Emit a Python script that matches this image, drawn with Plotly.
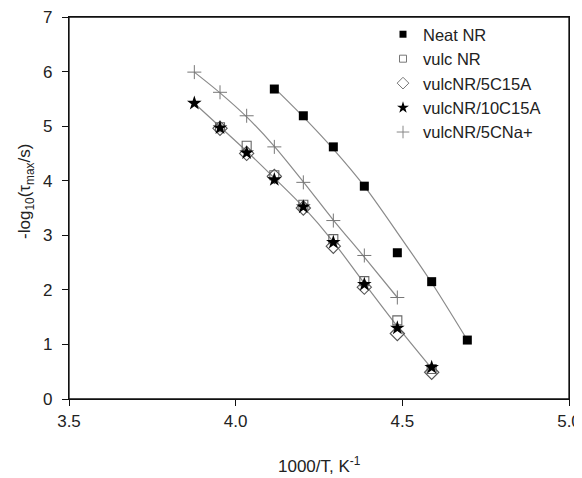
import plotly.graph_objects as go

# ---- data ----
neat_x = [4.116, 4.203, 4.293, 4.386, 4.485, 4.588, 4.695]
neat_y = [5.68, 5.19, 4.62, 3.90, 2.68, 2.15, 1.08]

vulc_x = [3.953, 4.033, 4.116, 4.203, 4.293, 4.386, 4.485, 4.588]
vulc_y = [4.98, 4.64, 4.10, 3.56, 2.93, 2.16, 1.44, 0.55]

c5_x = [3.953, 4.033, 4.116, 4.203, 4.293, 4.386, 4.485, 4.588]
c5_y = [4.96, 4.50, 4.08, 3.50, 2.80, 2.05, 1.20, 0.49]

c10_x = [3.876, 3.953, 4.033, 4.116, 4.203, 4.293, 4.386, 4.485, 4.588]
c10_y = [5.42, 4.97, 4.51, 4.02, 3.52, 2.87, 2.10, 1.30, 0.58]

na_x = [3.876, 3.953, 4.033, 4.116, 4.203, 4.293, 4.386, 4.485]
na_y = [5.99, 5.62, 5.19, 4.62, 3.97, 3.27, 2.63, 1.86]

# fitted curves
fit_neat_x = [4.116, 4.203, 4.293, 4.386, 4.485, 4.588, 4.695]
fit_neat_y = [5.70, 5.17, 4.58, 3.90, 3.05, 2.13, 1.08]
fit_vulc_x = [3.876, 3.953, 4.033, 4.116, 4.203, 4.293, 4.386, 4.485, 4.588]
fit_vulc_y = [5.42, 4.99, 4.54, 4.05, 3.52, 2.88, 2.12, 1.33, 0.56]
fit_na_x = [3.876, 3.953, 4.033, 4.116, 4.203, 4.293, 4.386, 4.485]
fit_na_y = [5.99, 5.61, 5.17, 4.63, 3.98, 3.28, 2.60, 1.86]

x_ticks = [3.5, 4.0, 4.5, 5.0]
y_ticks = [0, 1, 2, 3, 4, 5, 6, 7]

FONT = "Liberation Sans, Arial, sans-serif"
TXT = "#222"
LINE = "#8a8a8a"

fig = go.Figure()

for fx, fy in [(fit_neat_x, fit_neat_y), (fit_vulc_x, fit_vulc_y), (fit_na_x, fit_na_y)]:
    fig.add_trace(go.Scatter(x=fx, y=fy, mode="lines", line=dict(color=LINE, width=1.2, shape="spline", smoothing=0.8),
                             showlegend=False, hoverinfo="skip"))

series = [
    ("Neat NR", neat_x, neat_y, dict(symbol="square", size=9, color="black", line=dict(width=0)),
     dict(symbol="square", size=7, color="black", line=dict(width=0))),
    ("vulc NR", vulc_x, vulc_y, dict(symbol="square-open", size=9, color="#666", line=dict(width=1.1)),
     dict(symbol="square-open", size=7, color="#777", line=dict(width=1))),
    ("vulcNR/5C15A", c5_x, c5_y, dict(symbol="diamond-open", size=11, color="#555", line=dict(width=1.1)),
     dict(symbol="diamond-open", size=9, color="#777", line=dict(width=1))),
    ("vulcNR/10C15A", c10_x, c10_y, dict(symbol="star", size=11, color="black", line=dict(width=0)),
     dict(symbol="star", size=9, color="black", line=dict(width=0))),
    ("vulcNR/5CNa+", na_x, na_y, dict(symbol="cross-thin-open", size=10, color="#777", line=dict(width=1, color="#777")),
     dict(symbol="cross-thin-open", size=9, color="#888", line=dict(width=1, color="#888"))),
]

for name, xs, ys, mk, _ in series:
    fig.add_trace(go.Scatter(x=xs, y=ys, mode="markers", name=name, marker=mk, showlegend=False))

for name, _, _, _, lmk in series:
    fig.add_trace(go.Scatter(x=[None], y=[None], mode="markers", name=name, marker=lmk, showlegend=True))

axis_common = dict(
    showline=True, linecolor="#111", linewidth=1.3, mirror=True,
    ticks="outside", ticklen=6, tickwidth=1.2, tickcolor="#111",
    showgrid=False, zeroline=False, automargin=False, ticklabeloverflow="allow",
    tickfont=dict(family=FONT, size=17, color=TXT),
)

# the page has an 8px body margin; margins are set so the plot box lands where the reference has it
fig.update_layout(
    width=582, height=478,
    margin=dict(l=61, r=21, t=9, b=87),
    paper_bgcolor="white", plot_bgcolor="white",
    font=dict(family=FONT, color=TXT),
    xaxis=dict(range=[3.5, 5.0], tickvals=x_ticks, ticktext=[f"{v:.1f}" for v in x_ticks], **axis_common),
    yaxis=dict(range=[0, 7], tickvals=y_ticks, ticklabelstandoff=6, **axis_common),
    legend=dict(x=0.628, y=1.0, xanchor="left", yanchor="top", bgcolor="rgba(0,0,0,0)",
                font=dict(family=FONT, size=16.5, color=TXT), tracegroupgap=0),
    showlegend=True,
    shapes=[dict(type="rect", xref="paper", yref="paper", x0=0, x1=1, y0=0, y1=1,
                 line=dict(color="#111", width=1.3), fillcolor="rgba(0,0,0,0)", layer="above")],
    annotations=[
        dict(text="1000/T, K<sup>-1</sup>", x=0.5, y=-0.172, xref="paper", yref="paper",
             xanchor="center", yanchor="middle", showarrow=False, font=dict(family=FONT, size=17, color=TXT)),
        dict(text="-log<sub>10</sub>(τ<sub>max</sub>/s)", x=-0.086, y=0.542, xref="paper", yref="paper",
             xanchor="center", yanchor="middle", textangle=-90, showarrow=False,
             font=dict(family=FONT, size=17, color=TXT)),
    ],
)

fig.write_html("out.html")
